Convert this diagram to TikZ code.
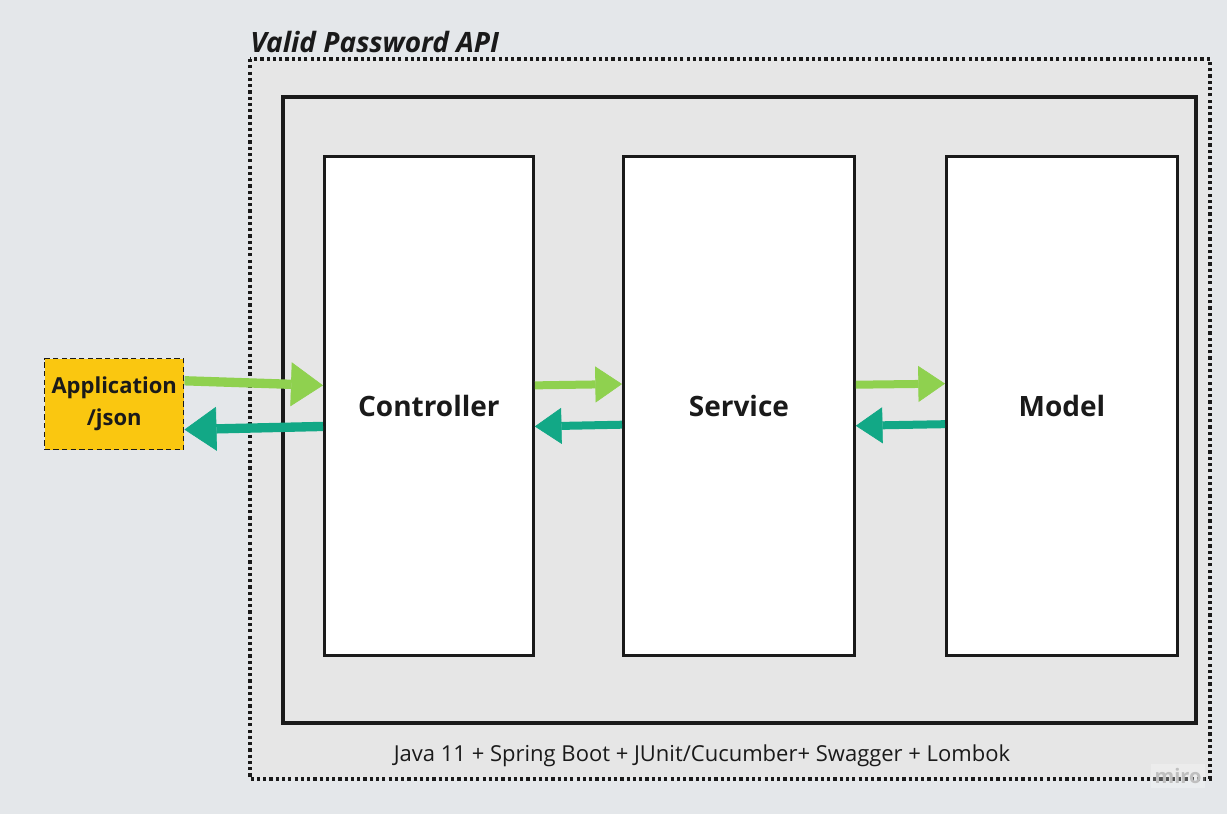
\documentclass[tikz,border=0pt]{standalone}
\usepackage{fontspec}
\setmainfont{Open Sans}
\usetikzlibrary{arrows.meta}

\definecolor{bgcol}{RGB}{228,231,234}
\definecolor{framecol}{RGB}{230,230,230}
\definecolor{linecol}{RGB}{26,26,26}
\definecolor{appyellow}{RGB}{250,199,16}
\definecolor{reqgreen}{RGB}{143,209,79}
\definecolor{respteal}{RGB}{18,168,134}

\tikzset{
  layerbox/.style={draw=linecol, line width=2.1pt, fill=white, anchor=north west, inner sep=0pt, text=linecol, font=\fontsize{21}{25}\selectfont\bfseries},
  appbox/.style={draw=linecol, line width=1.1pt, dash pattern=on 4pt off 2.5pt, fill=appyellow, anchor=north west, inner sep=0pt, align=center, text=linecol, font=\fontsize{16.5}{24}\selectfont\bfseries},
  reqarrow/.style={draw=reqgreen, line width=6pt, -{Triangle[length=20pt,width=27pt,line width=0.5pt]}},
  resarrow/.style={draw=respteal, line width=6pt, -{Triangle[length=20pt,width=27pt,line width=0.5pt]}},
  bigarrow/.style={line width=7pt, -{Triangle[length=24pt,width=33pt,line width=0.5pt]}}
}

\begin{document}
\begin{tikzpicture}[x=0.75pt,y=0.75pt,yscale=-1,xscale=1]
	\fill[bgcol] (0,0) rectangle (1227,814);
	\useasboundingbox (0,0) rectangle (1227,814);
	\draw[linecol, line width=2.4pt, dash pattern=on 2.4pt off 2.3pt, fill=framecol] (250,59) rectangle (1210,779);
	\draw[linecol, line width=2.5pt, fill=framecol] (283,97) rectangle (1196,723);
	\node[anchor=base west, inner sep=0pt, text=linecol, font=\fontsize{21}{25}\selectfont\bfseries\itshape] (title) at (250,52) {Valid Password API};
	\node[anchor=base, inner sep=0pt, text=linecol, font=\fontsize{16.5}{20}\selectfont] (stack) at (702,761) {Java 11 + Spring Boot + JUnit/Cucumber+ Swagger + Lombok};
	\node[layerbox, minimum width=156.75pt, minimum height=374.25pt] (ctrl) at (323,155) {Controller};
	\node[layerbox, minimum width=173.25pt, minimum height=374.25pt] (svc) at (622,155) {Service};
	\node[layerbox, minimum width=173.25pt, minimum height=374.25pt] (model) at (945,155) {Model};
	\node[appbox, minimum width=104.25pt, minimum height=68.25pt] (app) at (44,358) {Application\\/json};
	\draw[reqarrow, bigarrow] ([yshift=-17.6pt]app.east) -- ([yshift=-15.4pt]ctrl.west);
	\draw[resarrow, bigarrow] ([yshift=15.4pt]ctrl.west) -- ([yshift=19pt]app.east);
	\draw[reqarrow] ([yshift=-15.4pt]ctrl.east) -- ([yshift=-16.4pt]svc.west);
	\draw[resarrow] ([yshift=14.1pt]svc.west) -- ([yshift=15.4pt]ctrl.east);
	\draw[reqarrow] ([yshift=-15.9pt]svc.east) -- ([yshift=-16.7pt]model.west);
	\draw[resarrow] ([yshift=13.7pt]model.west) -- ([yshift=14.9pt]svc.east);
	\node[fill=white, fill opacity=0.25, text opacity=1, text=black!25, inner sep=3pt, font=\fontsize{15}{17}\selectfont\bfseries] (miro) at (1178,776) {miro};
\end{tikzpicture}
\end{document}
